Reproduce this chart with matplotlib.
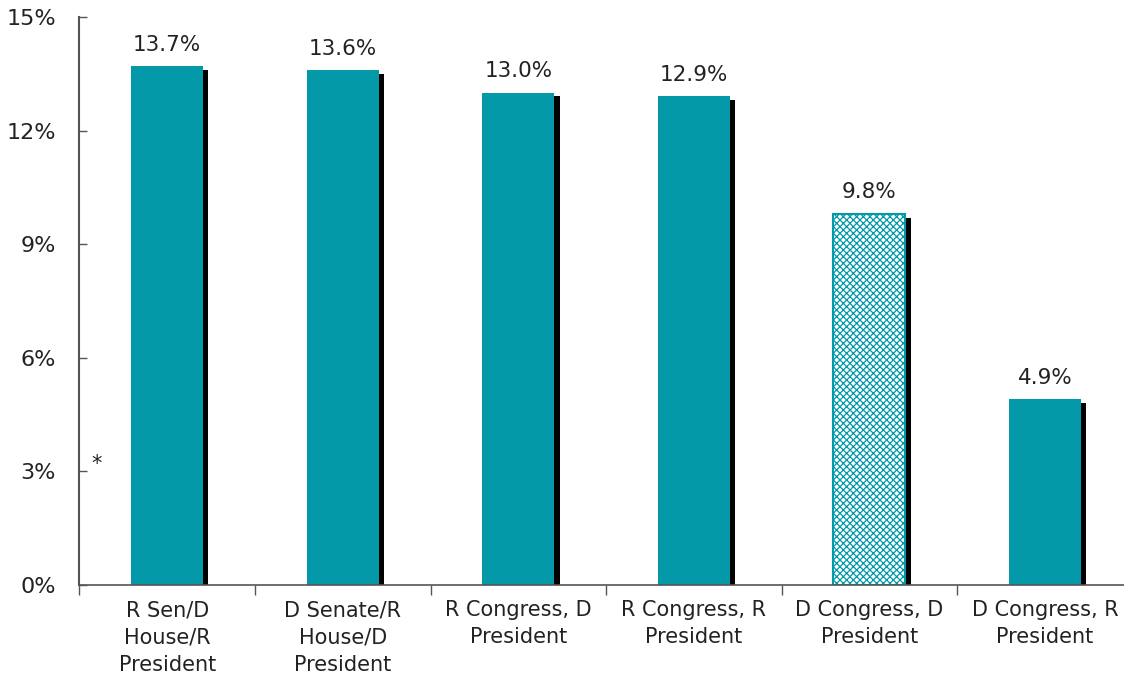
import matplotlib.pyplot as plt
import numpy as np

# chart data
categories = ['R Sen/D\nHouse/R\nPresident', 'D Senate/R\nHouse/D\nPresident',
              'R Congress, D\nPresident', 'R Congress, R\nPresident',
              'D Congress, D\nPresident', 'D Congress, R\nPresident']
values = [13.7, 13.6, 13.0, 12.9, 9.8, 4.9]
labels = ['13.7%', '13.6%', '13.0%', '12.9%', '9.8%', '4.9%']
hatched = [False, False, False, False, True, False]
yticks = [0, 3, 6, 9, 12, 15]

teal = '#0399A9'
plt.rcParams['font.family'] = ['DejaVu Sans']
plt.rcParams['hatch.linewidth'] = 0.9

fig = plt.figure(figsize=(11.24, 6.77), dpi=100)
ax = fig.add_axes([0.0707, 0.136, 0.937, 0.839])

x = np.arange(len(categories))
w = 0.41

# shadow bars (offset right and slightly lower)
ax.bar(x + 0.03, np.array(values) - 0.1, width=w, color='black', zorder=1)

for xi, v, h in zip(x, values, hatched):
    if h:
        ax.bar(xi, v, width=w, facecolor='white', edgecolor=teal, hatch='xxxxx',
               linewidth=1.5, zorder=2)
    else:
        ax.bar(xi, v, width=w, color=teal, zorder=2)

for xi, v, lab in zip(x, values, labels):
    ax.text(xi, v + 0.3, lab, ha='center', va='bottom', fontsize=15.5, color='#222222')

ax.text(-0.4, 3.2, '*', ha='center', va='center', fontsize=15, color='#222222')

ax.set_xlim(-0.5, len(categories) - 0.5)
ax.set_ylim(0, 15)
ax.set_yticks(yticks)
ax.set_yticklabels([f'{t}%' for t in yticks])
ax.tick_params(axis='y', direction='in', length=6, width=1, color='#555555',
               labelsize=16, pad=17, labelcolor='#222222')

ax.set_xticks(x)
ax.set_xticklabels(categories, fontsize=15, color='#222222', linespacing=1.45)
ax.set_xticks(np.arange(len(categories) + 1) - 0.5, minor=True)
ax.tick_params(axis='x', which='major', length=0, pad=11)
ax.tick_params(axis='x', which='minor', direction='out', length=7, width=1, color='#555555')

for s in ['top', 'right']:
    ax.spines[s].set_visible(False)
ax.spines['left'].set_color('#555555')
ax.spines['left'].set_linewidth(1.5)
ax.spines['bottom'].set_color('#555555')
ax.spines['bottom'].set_linewidth(1.2)

fig.savefig('out.png', dpi=100)
